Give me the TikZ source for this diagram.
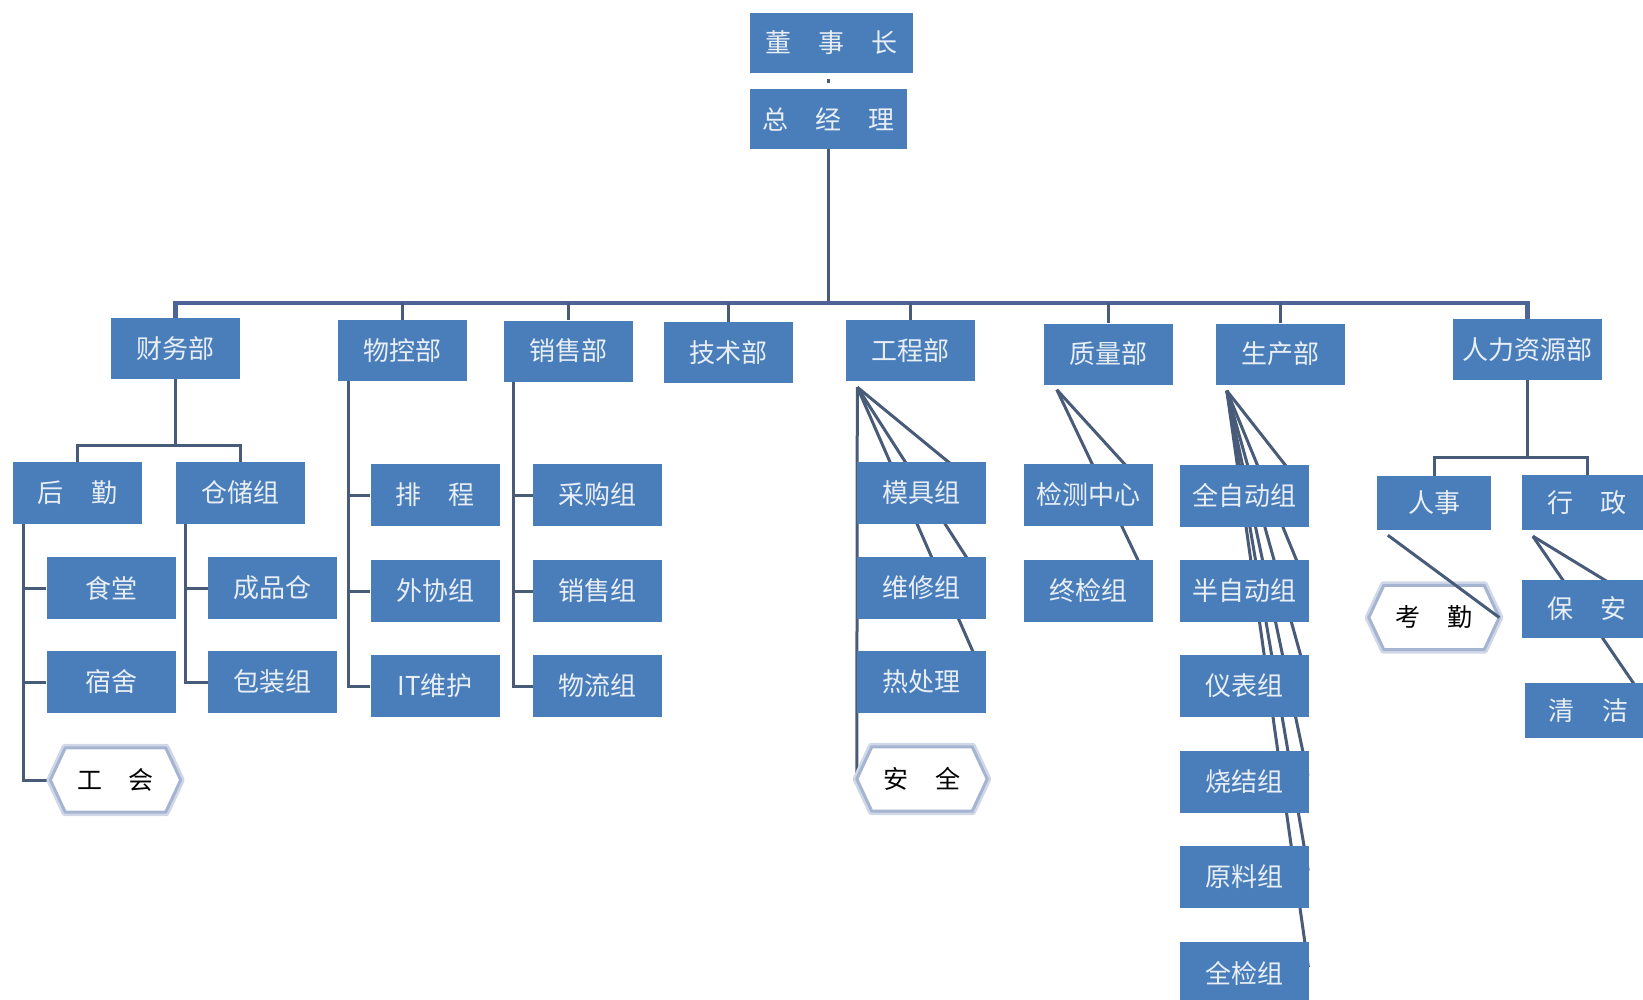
\documentclass[tikz,border=0pt]{standalone}
\usepackage{fontspec}
\setmainfont{Noto Sans CJK SC}
\usetikzlibrary{calc}
\pgfdeclarelayer{bg}
\pgfdeclarelayer{mid}
\pgfdeclarelayer{top}
\pgfsetlayers{bg,mid,main,top}
\definecolor{boxblue}{RGB}{74,126,187}
\definecolor{boxtext}{RGB}{232,238,246}
\definecolor{linec}{RGB}{72,92,122}
\definecolor{busc}{RGB}{78,100,150}
\definecolor{hexout}{RGB}{208,216,232}
\definecolor{hexin}{RGB}{165,180,208}
\newcommand\gp{\hspace{1.05em}}
\tikzset{
  box/.style={fill=boxblue, text=boxtext, inner sep=0pt,
    font=\fontsize{26}{26}\selectfont, minimum width=129pt, minimum height=62pt},
  hexnode/.style={inner sep=0pt, text=black, font=\fontsize{25}{25}\selectfont,
    minimum width=130pt, minimum height=64pt},
  conn/.style={draw=linec, line width=3pt},
  diag/.style={draw=linec, line width=3pt, shorten >=6pt},
  busline/.style={draw=busc, line width=4.5pt},
}
\begin{document}
\begin{tikzpicture}[x=1pt,y=-1pt]
\useasboundingbox (0,0) rectangle (1643,1000);
% top
\node[box, minimum width=163pt, minimum height=60pt] (dsz) at (831.5,43) {董\gp 事\gp 长};
\node[box, minimum width=157pt, minimum height=60pt] (zjl) at (828.5,119) {总\gp 经\gp 理};
% departments
\node[box, minimum height=61pt] (cwb) at (175.5,348.5) {财务部};
\node[box, minimum height=61pt] (wkb) at (402.5,350.5) {物控部};
\node[box, minimum height=61pt] (xsb) at (568.5,351) {销售部};
\node[box, minimum height=61pt] (jsb) at (728.5,352.5) {技术部};
\node[box, minimum height=61pt] (gcb) at (910,350.5) {工程部};
\node[box, minimum height=61pt] (zlb) at (1108.5,354) {质量部};
\node[box, minimum height=61pt] (scb) at (1280.5,354) {生产部};
\node[box, minimum height=61pt, minimum width=149pt] (rlb) at (1527.5,349.5) {人力资源部};
% finance
\node[box] (hq) at (77.5,493) {后\gp 勤};
\node[box] (ccz) at (240,493) {仓储组};
\node[box] (st) at (111,588) {食堂};
\node[box] (ss) at (111,682) {宿舍};
\node[box] (cpc) at (272.5,588) {成品仓};
\node[box] (bzz) at (272.5,682) {包装组};
\node[hexnode] (gh) at (115.5,780) {工\gp 会};
% material control
\node[box] (pc) at (435,495) {排\gp 程};
\node[box] (wxz) at (435,591) {外协组};
\node[box] (itwh) at (435,686) {IT维护};
% sales
\node[box] (cgz) at (597.5,495) {采购组};
\node[box] (xsz) at (597.5,591) {销售组};
\node[box] (wlz) at (597.5,686) {物流组};
% engineering
\node[box] (mjz) at (921.5,493) {模具组};
\node[box] (wxz2) at (921.5,588) {维修组};
\node[box] (rcl) at (921.5,682) {热处理};
\node[hexnode] (aq) at (922,779) {安\gp 全};
% quality
\node[box] (jczx) at (1088,495) {检测中心};
\node[box] (zjz) at (1088,591) {终检组};
% production
\node[box] (qzd) at (1244.5,495.5) {全自动组};
\node[box] (bzd) at (1244.5,591) {半自动组};
\node[box] (ybz) at (1244.5,686) {仪表组};
\node[box] (sjz) at (1244.5,781.5) {烧结组};
\node[box] (ylz) at (1244.5,876.5) {原料组};
\node[box] (qjz) at (1244.5,973) {全检组};
% HR
\node[box, minimum width=114pt, minimum height=54pt] (rs) at (1434,503) {人事};
\node[box, minimum width=130pt, minimum height=55pt] (xz) at (1587,502.5) {行\gp 政};
\node[box, minimum width=130pt, minimum height=58pt] (ba) at (1587,609) {保\gp 安};
\node[box, minimum width=127pt, minimum height=55pt] (qj) at (1588.5,710.5) {清\gp 洁};
\node[hexnode] (kq) at (1434,617.5) {考\gp 勤};

% hexagon shapes
\begin{pgfonlayer}{mid}
\foreach \h in {gh,aq,kq}{
  \draw[hexout, line width=8pt, line join=round]
    ([xshift=15pt]\h.north west) -- ([xshift=-15pt]\h.north east) -- (\h.east)
    -- ([xshift=-15pt]\h.south east) -- ([xshift=15pt]\h.south west) -- (\h.west) -- cycle;
  \draw[hexin, line width=3pt, fill=white, line join=round]
    ([xshift=15pt]\h.north west) -- ([xshift=-15pt]\h.north east) -- (\h.east)
    -- ([xshift=-15pt]\h.south east) -- ([xshift=15pt]\h.south west) -- (\h.west) -- cycle;
}
\end{pgfonlayer}

% connectors
\begin{pgfonlayer}{bg}
\fill[white] (0,0) rectangle (1643,1000);
\draw[conn, shorten <=5.5pt, shorten >=5.5pt] (zjl.north |- dsz.south) -- (zjl.north);
\coordinate (bus) at (828.5,303);
\draw[conn] (zjl.south) -- (bus);
\draw[busline] (cwb.north) |- (bus) -| (rlb.north);
\foreach \d in {wkb,xsb,jsb,gcb,zlb,scb} \draw[conn] (\d.north) -- (\d.north |- bus);
% finance
\coordinate (cwj) at (175.5,445);
\draw[conn] (cwb.south) -- (cwj);
\draw[conn] (hq.north) |- (cwj) -| (ccz.north);
\coordinate (hqL) at ([xshift=11pt]hq.south west);
\draw[conn] (hqL) |- (gh.west);
\draw[conn] (hqL) |- (st.west);
\draw[conn] (hqL) |- (ss.west);
\coordinate (cczL) at ([xshift=10pt]ccz.south west);
\draw[conn] (cczL) |- (cpc.west);
\draw[conn] (cczL) |- (bzz.west);
% material control
\coordinate (wkL) at ([xshift=11pt]wkb.south west);
\draw[conn] (wkL) |- (pc.west);
\draw[conn] (wkL) |- (wxz.west);
\draw[conn] (wkL) |- (itwh.west);
% sales
\coordinate (xsL) at ([xshift=10pt]xsb.south west);
\draw[conn] (xsL) |- (cgz.west);
\draw[conn] (xsL) |- (xsz.west);
\draw[conn] (xsL) |- (wlz.west);
% engineering
\coordinate (gP) at ([shift={(12,6)}]gcb.south west);
\foreach \c in {mjz,wxz2,rcl} \draw[diag] (gP) -- (\c.east);
\draw[conn] (gP) -- (aq.west);
% quality
\coordinate (zP) at ([shift={(13,5)}]zlb.south west);
\foreach \c in {jczx,zjz} \draw[diag] (zP) -- (\c.east);
% production
\coordinate (sP) at ([shift={(11,6)}]scb.south west);
\foreach \c in {qzd,bzd,ybz,sjz,ylz,qjz} \draw[diag] (sP) -- (\c.east);
% HR
\coordinate (rj) at (1527.5,457);
\draw[conn] (rlb.south) -- (rj);
\draw[conn] (rs.north) |- (rj) -| (xz.north);
\coordinate (xP) at ([shift={(11,6)}]xz.south west);
\draw[diag] (xP) -- (ba.east);
\draw[diag] (xP) -- (qj.east);
\end{pgfonlayer}
\begin{pgfonlayer}{top}
\coordinate (rP) at ([shift={(11,5)}]rs.south west);
\draw[conn] (rP) -- (kq.east);
\end{pgfonlayer}
\end{tikzpicture}
\end{document}
